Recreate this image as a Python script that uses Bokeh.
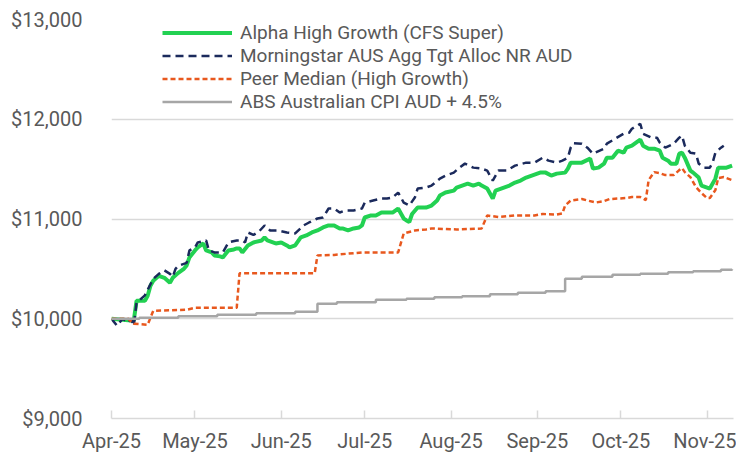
import pandas as pd
from bokeh.plotting import figure
from bokeh.models import (Range1d, FixedTicker, DatetimeTickFormatter, NumeralTickFormatter,
                          Legend, LegendItem)
from bokeh.embed import file_html
from bokeh.resources import INLINE

# days since 2025-04-01, and values ($ growth of $10,000)
alpha_day = [0, 8, 9, 12, 13, 14, 15, 17, 19, 21, 22, 24, 26, 27, 28, 30, 31, 33, 34, 36, 37, 39, 40,
             42, 44, 45, 46, 47, 49, 51, 54, 55, 56, 59, 61, 63, 64, 66, 68, 70, 72, 74, 76, 78, 80, 82,
             83, 85, 87, 89, 90, 91, 93, 95, 97, 99, 101, 103, 105, 106, 107, 108, 110, 113, 115, 117,
             118, 120, 123, 124, 126, 128, 130, 132, 133, 135, 137, 138, 141, 143, 145, 147, 149, 151,
             153, 154, 156, 158, 160, 163, 164, 165, 167, 169, 172, 173, 175, 177, 178, 180, 182, 184,
             185, 187, 188, 190, 191, 193, 195, 197, 198, 200, 201, 203, 204, 205, 206, 208, 209, 211,
             212, 214, 215, 217, 218, 221, 223]
alpha_val = [10000, 9980, 10180, 10180, 10230, 10330, 10380, 10430, 10410, 10360, 10410, 10460, 10500,
             10535, 10615, 10685, 10715, 10755, 10685, 10665, 10635, 10625, 10615, 10685, 10695, 10705,
             10705, 10665, 10735, 10765, 10785, 10815, 10785, 10755, 10765, 10735, 10715, 10735, 10815,
             10835, 10865, 10885, 10915, 10935, 10935, 10905, 10905, 10885, 10905, 10915, 10935, 11015,
             11035, 11035, 11065, 11065, 11065, 11105, 11005, 10985, 10970, 11050, 11115, 11115, 11135,
             11185, 11235, 11265, 11285, 11315, 11335, 11355, 11335, 11355, 11335, 11305, 11205, 11285,
             11315, 11335, 11365, 11385, 11415, 11435, 11455, 11465, 11465, 11435, 11455, 11465, 11505,
             11565, 11565, 11565, 11605, 11505, 11515, 11555, 11615, 11615, 11685, 11665, 11715, 11735,
             11755, 11795, 11735, 11705, 11705, 11685, 11615, 11585, 11555, 11555, 11655, 11665, 11615,
             11485, 11465, 11415, 11335, 11315, 11305, 11405, 11515, 11515, 11535]

bench_day = [0, 2, 4, 6, 7, 8, 9, 12, 15, 17, 19, 21, 22, 23, 24, 27, 28, 30, 31, 34, 35, 37, 40, 42,
             45, 47, 48, 49, 51, 53, 55, 57, 60, 63, 66, 69, 71, 74, 76, 78, 80, 82, 84, 87, 90, 91, 94,
             97, 99, 101, 103, 105, 107, 109, 110, 113, 115, 118, 120, 123, 125, 127, 130, 133, 135, 137,
             139, 142, 145, 149, 152, 155, 157, 160, 162, 164, 165, 166, 169, 171, 173, 177, 178, 181,
             184, 186, 187, 190, 191, 194, 196, 197, 199, 202, 204, 205, 206, 208, 210, 211, 213, 215,
             216, 217, 219, 220]
bench_val = [10000, 9930, 10000, 9960, 10000, 9930, 10160, 10235, 10400, 10450, 10485, 10450, 10420,
             10500, 10530, 10560, 10685, 10715, 10765, 10785, 10685, 10665, 10665, 10765, 10785, 10785,
             10765, 10865, 10840, 10875, 10935, 10885, 10885, 10865, 10855, 10935, 10965, 11005, 11015,
             11105, 11105, 11065, 11085, 11085, 11105, 11165, 11185, 11205, 11205, 11215, 11265, 11165,
             11135, 11215, 11305, 11315, 11335, 11405, 11435, 11465, 11515, 11555, 11515, 11505, 11485,
             11385, 11485, 11485, 11535, 11565, 11565, 11615, 11585, 11565, 11585, 11615, 11715, 11760,
             11755, 11715, 11655, 11705, 11755, 11805, 11855, 11865, 11905, 11955, 11855, 11815, 11815,
             11765, 11715, 11755, 11815, 11835, 11735, 11665, 11655, 11555, 11515, 11515, 11565, 11665,
             11715, 11735]

peer_day = [0, 6, 8, 13, 14, 15, 27, 30, 45, 46, 54, 73, 74, 80, 90, 103, 105, 109, 113, 115, 124, 133,
            135, 139, 145, 149, 152, 155, 160, 162, 163, 165, 169, 174, 177, 179, 185, 187, 190, 192,
            193, 195, 197, 199, 202, 204, 205, 206, 208, 210, 212, 214, 215, 217, 218, 220, 223]
peer_val = [10000, 10000, 9950, 9940, 10010, 10080, 10090, 10110, 10110, 10455, 10455, 10455, 10635,
            10640, 10665, 10665, 10855, 10885, 10895, 10905, 10895, 10905, 11035, 11020, 11036, 11036,
            11036, 11050, 11045, 11055, 11135, 11185, 11200, 11165, 11180, 11200, 11210, 11220, 11220,
            11190, 11390, 11470, 11460, 11440, 11440, 11490, 11510, 11470, 11420, 11320, 11260, 11210,
            11210, 11290, 11410, 11420, 11390]

cpi_day = [0, 10, 24, 38, 52, 66, 74, 81, 95, 106, 116, 126, 136, 146, 156, 163, 169, 180, 190, 200,
           209, 219, 223]
cpi_val = [10000, 10010, 10025, 10040, 10055, 10070, 10150, 10165, 10190, 10200, 10215, 10225, 10245,
           10260, 10275, 10400, 10420, 10440, 10450, 10465, 10475, 10490, 10495]

series_names = ["Alpha High Growth (CFS Super)", "Morningstar AUS Agg Tgt Alloc NR AUD",
                "Peer Median (High Growth)", "ABS Australian CPI AUD + 4.5%"]
month_ticks = ["2025-04-01", "2025-05-01", "2025-06-01", "2025-07-01", "2025-08-01",
               "2025-09-01", "2025-10-01", "2025-11-01"]
y_ticks = [9000, 10000, 11000, 12000, 13000]

base = pd.Timestamp("2025-04-01")


def to_dates(days):
    return [base + pd.Timedelta(days=d) for d in days]


FONT = "Roboto"
TXT = "#595959"
GRID = "#d9d9d9"

p = figure(width=736, height=460, x_axis_type="datetime", output_backend="svg",
           toolbar_location=None,
           x_range=Range1d(base, base + pd.Timedelta(hours=223.5 * 24)),
           y_range=Range1d(9000, 13000),
           min_border_left=111, min_border_right=3, min_border_top=19, min_border_bottom=42)
p.outline_line_color = None
p.background_fill_color = "white"

r1 = p.line(to_dates(alpha_day), alpha_val, line_color="#22D152", line_width=4)
r2 = p.line(to_dates(bench_day), bench_val, line_color="#1B2A5C", line_width=2.5, line_dash="8 5")
r3 = p.line(to_dates(peer_day), peer_val, line_color="#E8581E", line_width=2.5, line_dash="5 3")
r4 = p.step(to_dates(cpi_day), cpi_val, line_color="#A6A6A6", line_width=2.5, mode="after")

# axes
p.xgrid.grid_line_color = None
p.ygrid.grid_line_color = GRID
p.ygrid.grid_line_width = 1.5
p.yaxis.ticker = FixedTicker(ticks=y_ticks)
p.yaxis.formatter = NumeralTickFormatter(format="$0,0")
p.yaxis.axis_line_color = None
p.yaxis.major_tick_line_color = None
p.yaxis.minor_tick_line_color = None
p.yaxis.major_label_standoff = 23
p.yaxis.major_label_text_font = FONT
p.yaxis.major_label_text_font_size = "20px"
p.yaxis.major_label_text_color = TXT

tick_ms = [pd.Timestamp(t).value / 1e6 for t in month_ticks]
p.xaxis.ticker = FixedTicker(ticks=tick_ms)
p.xaxis.formatter = DatetimeTickFormatter(days="%b-%y", months="%b-%y", years="%b-%y")
p.xaxis.axis_line_color = GRID
p.xaxis.axis_line_width = 1.5
p.xaxis.major_tick_line_color = GRID
p.xaxis.major_tick_line_width = 1.5
p.xaxis.major_tick_in = 8
p.xaxis.major_tick_out = 0
p.xaxis.minor_tick_line_color = None
p.xaxis.major_label_standoff = 10
p.xaxis.major_label_text_font = FONT
p.xaxis.major_label_text_font_size = "20px"
p.xaxis.major_label_text_color = TXT

legend = Legend(items=[LegendItem(label=n, renderers=[r]) for n, r in
                       zip(series_names, [r1, r2, r3, r4])],
                location=(51, 305), padding=0, spacing=0, margin=0,
                glyph_width=70, glyph_height=21, label_height=21, label_standoff=8,
                label_text_font=FONT, label_text_font_size="19px", label_text_color=TXT,
                border_line_alpha=0, background_fill_alpha=0)
p.add_layout(legend)

open("out.html", "w").write(file_html(p, INLINE))
